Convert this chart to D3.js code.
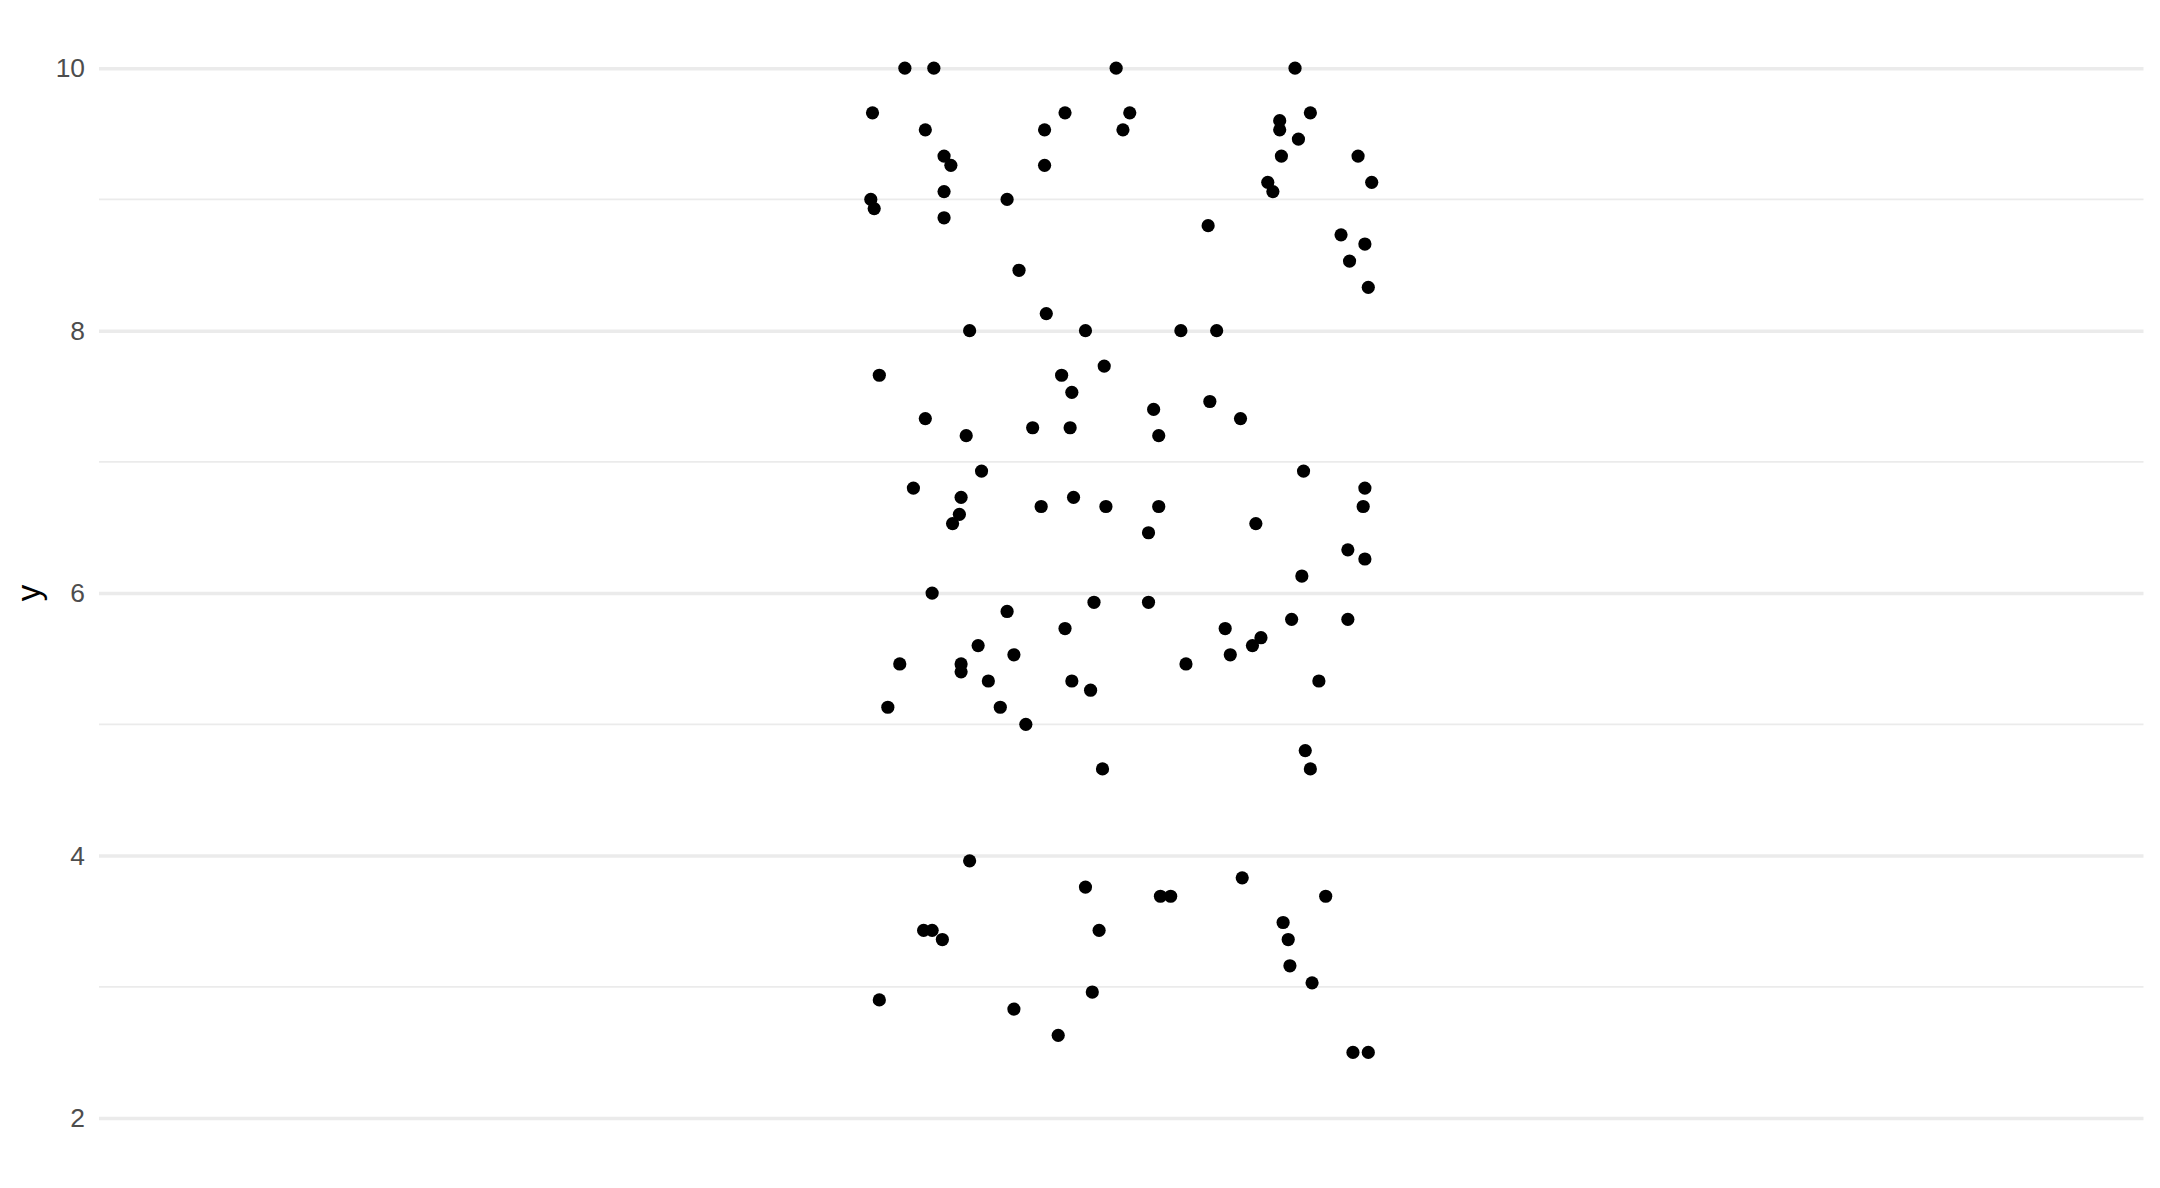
<!DOCTYPE html>
<html>
<head>
<meta charset="utf-8">
<script src="https://cdn.jsdelivr.net/npm/d3@7"></script>
<style>
  html, body { margin: 0; padding: 0; background: #fff; }
  svg { display: block; font-family: "Liberation Sans", Arial, sans-serif; }
</style>
</head>
<body>
<svg id="chart" width="2160" height="1188"></svg>
<script>
// jittered x position (single group centred on 1) and y value of each point
const xValues = [
  0.873, 0.890, 0.997, 0.854, 0.967, 1.005, 0.885, 0.955, 1.001, 0.896,
  0.900, 0.955, 0.853, 0.855, 0.896, 0.896, 0.933, 0.940, 0.956, 0.911,
  0.979, 0.858, 0.965, 0.990, 0.971, 0.885, 0.909, 0.948, 0.970,
  1.102, 1.093, 1.093, 1.111, 1.104, 1.094, 1.139, 1.147, 1.086, 1.089,
  1.051, 1.129, 1.143, 1.134, 1.145, 1.035, 1.056, 1.019, 1.052, 1.070, 1.022,
  0.918, 0.878, 0.906, 0.905, 0.901, 0.953, 0.972, 0.991, 0.889, 0.933,
  0.984, 0.967, 0.916, 0.937, 0.870, 0.906, 0.906, 0.922, 0.971, 0.982,
  0.863, 0.929, 0.944, 0.989,
  1.107, 1.143, 1.142, 1.022, 1.016, 1.079, 1.133, 1.143, 1.106, 1.016,
  1.100, 1.133, 1.061, 1.082, 1.077, 1.064, 1.038, 1.116, 1.108, 1.111,
  0.911, 0.979, 0.884, 0.889, 0.895, 0.987, 0.858, 0.983, 0.937, 0.963,
  1.071, 1.023, 1.029, 1.120, 1.095, 1.098, 1.099, 1.112, 1.136, 1.145
];
const yValues = [
  10.00, 10.00, 10.00, 9.66, 9.66, 9.66, 9.53, 9.53, 9.53, 9.33,
  9.26, 9.26, 9.00, 8.93, 9.06, 8.86, 9.00, 8.46, 8.13, 8.00,
  8.00, 7.66, 7.66, 7.73, 7.53, 7.33, 7.20, 7.26, 7.26,
  10.00, 9.60, 9.53, 9.66, 9.46, 9.33, 9.33, 9.13, 9.13, 9.06,
  8.80, 8.73, 8.66, 8.53, 8.33, 8.00, 8.00, 7.40, 7.46, 7.33, 7.20,
  6.93, 6.80, 6.73, 6.60, 6.53, 6.66, 6.73, 6.66, 6.00, 5.86,
  5.93, 5.73, 5.60, 5.53, 5.46, 5.46, 5.40, 5.33, 5.33, 5.26,
  5.13, 5.13, 5.00, 4.66,
  6.93, 6.80, 6.66, 6.66, 6.46, 6.53, 6.33, 6.26, 6.13, 5.93,
  5.80, 5.80, 5.73, 5.66, 5.60, 5.53, 5.46, 5.33, 4.80, 4.66,
  3.96, 3.76, 3.43, 3.43, 3.36, 3.43, 2.90, 2.96, 2.83, 2.63,
  3.83, 3.69, 3.69, 3.69, 3.49, 3.36, 3.16, 3.03, 2.50, 2.50
];
const yMajorTicks = [2, 4, 6, 8, 10];
const yMinorTicks = [3, 5, 7, 9];
const yTitle = "y";

const svg = d3.select("#chart");
const width = 2160;
const height = 1188;
const margin = { top: 15.7, right: 16.5, bottom: 17.5, left: 99 };

const x = d3.scaleLinear()
  .domain([0.4, 1.6])
  .range([margin.left, width - margin.right]);
const y = d3.scaleLinear()
  .domain([1.6, 10.4])
  .range([height - margin.bottom, margin.top]);

// Grid lines.
svg.append("g")
  .selectAll("line")
  .data(yMinorTicks)
  .join("line")
  .attr("x1", margin.left)
  .attr("x2", width - margin.right)
  .attr("y1", d => y(d))
  .attr("y2", d => y(d))
  .attr("stroke", "#EBEBEB")
  .attr("stroke-width", 1.8);

const yAxis = d3.axisLeft(y)
  .tickValues(yMajorTicks)
  .tickSize(-(width - margin.left - margin.right))
  .tickPadding(14)
  .tickFormat(d3.format("d"));

svg.append("g")
  .attr("transform", `translate(${margin.left},0)`)
  .call(yAxis)
  .call(g => g.select(".domain").remove())
  .call(g => g.selectAll(".tick line")
    .attr("stroke", "#EBEBEB")
    .attr("stroke-width", 3.5))
  .call(g => g.selectAll(".tick text")
    .attr("fill", "#4D4D4D")
    .attr("font-size", 26.4)
    .attr("font-family", "Liberation Sans, Arial, sans-serif"));

// Axis title.
svg.append("text")
  .attr("transform", `translate(40,${(margin.top + height - margin.bottom) / 2}) rotate(-90)`)
  .attr("text-anchor", "middle")
  .attr("font-size", 33)
  .attr("fill", "#000")
  .text(yTitle);

// Points.
svg.append("g")
  .selectAll("circle")
  .data(d3.zip(xValues, yValues))
  .join("circle")
  .attr("cx", d => x(d[0]))
  .attr("cy", d => y(d[1]))
  .attr("r", 6.6)
  .attr("fill", "#000");
</script>
</body>
</html>
